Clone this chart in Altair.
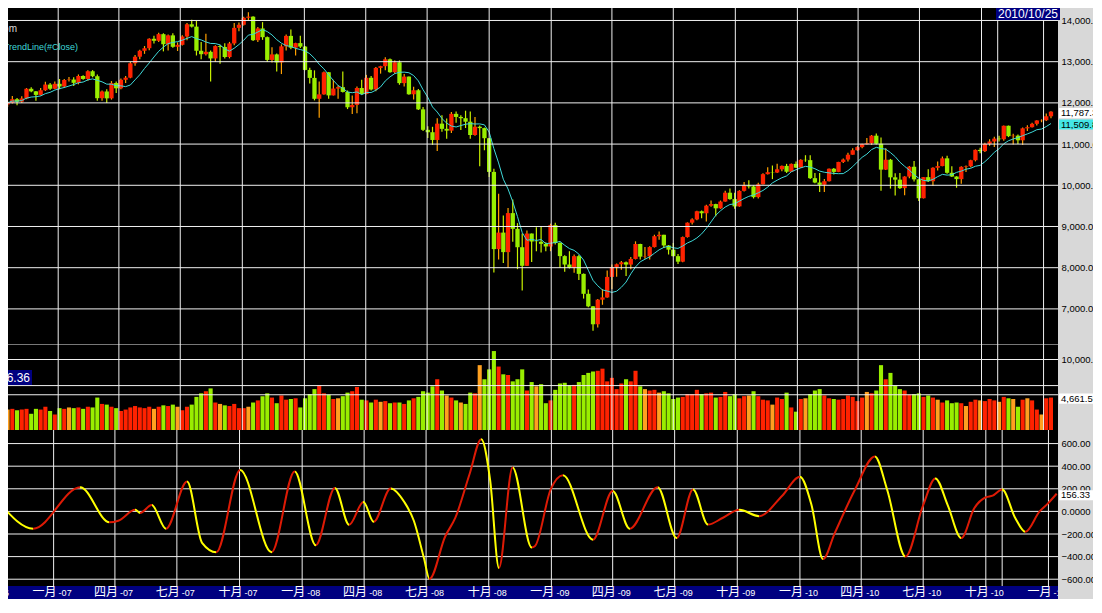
import altair as alt
import pandas as pd
import numpy as np

# ---------------- weekly candles ----------------
o06 = [11961, 12002, 12090, 12030, 12108, 12342, 12280, 12194, 12307, 12445, 12343]
h06 = [12050, 12168, 12120, 12160, 12360, 12380, 12290, 12360, 12510, 12480, 12520]
l06 = [11900, 11985, 11940, 12000, 12090, 12260, 12050, 12180, 12290, 12310, 12330]
c06 = [12002, 12090, 12030, 12108, 12342, 12280, 12194, 12307, 12445, 12343, 12463]

o07 = [12463, 12398, 12556, 12566, 12487, 12653, 12581, 12768, 12647, 12114, 12277, 12110, 12481,
       12354, 12561, 12612, 12962, 13121, 13265, 13327, 13556, 13507, 13668, 13424, 13639, 13361,
       13409, 13612, 13908, 13851, 13265, 13182, 13240, 13079, 13379, 13358, 13113, 13443, 13821,
       13896, 14066, 14093, 13522, 13807, 13595, 13043, 13177, 12981, 13372, 13626, 13340, 13451]
h07 = [12580, 12580, 12630, 12620, 12690, 12670, 12790, 12795, 12690, 12300, 12330, 12530, 12520,
       12590, 12650, 12990, 13160, 13290, 13380, 13570, 13630, 13700, 13690, 13660, 13690, 13470,
       13640, 13940, 14020, 13990, 13480, 13680, 13270, 13400, 13410, 13450, 13480, 13940, 13950,
       14090, 14200, 14100, 13840, 13960, 13610, 13350, 13200, 13420, 13660, 13780, 13460, 13630]
l07 = [12330, 12360, 12520, 12410, 12450, 12560, 12540, 12620, 12050, 12050, 12000, 12080, 12240,
       12330, 12480, 12600, 12900, 13060, 13190, 13280, 13440, 13480, 13250, 13270, 13340, 13260,
       13390, 13520, 13830, 13150, 13060, 13150, 12520, 12990, 12950, 13080, 13080, 13400, 13740,
       13880, 13990, 13500, 13480, 13530, 12990, 12980, 12760, 12700, 13270, 13300, 13150, 13330]
c07 = [12398, 12556, 12566, 12487, 12653, 12581, 12768, 12647, 12114, 12277, 12110, 12481, 12354,
       12561, 12612, 12962, 13121, 13265, 13327, 13556, 13507, 13668, 13424, 13639, 13361, 13409,
       13612, 13908, 13851, 13265, 13182, 13240, 13079, 13379, 13358, 13113, 13443, 13821, 13896,
       14066, 14093, 13522, 13807, 13595, 13043, 13177, 12981, 13372, 13626, 13340, 13451, 13366]

o08 = [13366, 12800, 12606, 12099, 12207, 12743, 12182, 12348, 12381, 12266, 11894, 11951, 12361,
       12216, 12609, 12325, 12849, 12891, 13058, 12745, 12986, 12480, 12638, 12209, 12307, 11843,
       11346, 11288, 11100, 11496, 11370, 11326, 11734, 11659, 11628, 11543, 11220, 11421, 11388,
       11143, 10325, 8451, 8852, 8378, 9325, 8943, 8497, 8046, 8829, 8635, 8629, 8579]
h08 = [13380, 12850, 12790, 12520, 12760, 12750, 12560, 12430, 12760, 12300, 12180, 12400, 12560,
       12680, 12650, 12870, 12900, 13110, 13080, 13030, 13030, 12700, 12640, 12390, 12340, 11900,
       11430, 11420, 11630, 11700, 11620, 11780, 11790, 11700, 11810, 11790, 11660, 11450, 11400,
       11150, 10400, 9794, 9266, 9450, 9654, 9080, 8830, 8900, 8830, 8980, 8990, 8620]
l08 = [12790, 12470, 12060, 11640, 12200, 12100, 12180, 12100, 12250, 11850, 11730, 11750, 12200,
       12210, 12300, 12280, 12710, 12790, 12730, 12710, 12440, 12400, 12200, 12080, 11830, 11320,
       11150, 10980, 10830, 11300, 11130, 11270, 11520, 11340, 11390, 11130, 11200, 10460, 10850,
       10200, 7882, 8197, 8113, 7997, 8627, 7965, 7449, 8040, 8140, 8400, 8370, 8400]
c08 = [12800, 12606, 12099, 12207, 12743, 12182, 12348, 12381, 12266, 11894, 11951, 12361, 12216,
       12609, 12325, 12849, 12891, 13058, 12745, 12986, 12480, 12638, 12209, 12307, 11843, 11346,
       11288, 11100, 11496, 11370, 11326, 11734, 11659, 11628, 11543, 11220, 11421, 11388, 11143,
       10325, 8451, 8852, 8378, 9325, 8943, 8497, 8046, 8829, 8635, 8629, 8579, 8515]

o09 = [8515, 9034, 8599, 8281, 8077, 8000, 8280, 7850, 7366, 7062, 6627, 7224, 7278, 7776, 8018,
       8083, 8131, 8076, 8212, 8575, 8268, 8277, 8500, 8764, 8799, 8540, 8438, 8280, 8146, 8743,
       9093, 9172, 9370, 9321, 9505, 9544, 9441, 9605, 9820, 9665, 9488, 9865, 9996, 9972, 9713,
       10023, 10270, 10318, 10310, 10388, 10471, 10329, 10520]
h09 = [9070, 9090, 8620, 8300, 8400, 8320, 8310, 7860, 7470, 7070, 7240, 7480, 7930, 8080, 8100,
       8160, 8150, 8260, 8640, 8580, 8500, 8520, 8800, 8880, 8800, 8550, 8600, 8330, 8760, 9100,
       9200, 9380, 9390, 9530, 9630, 9550, 9630, 9870, 9920, 9820, 9880, 10080, 10120, 10000, 10060,
       10290, 10440, 10480, 10520, 10480, 10520, 10530, 10580]
l09 = [8400, 8560, 8000, 7900, 7980, 7880, 7700, 7250, 7040, 6470, 6550, 7100, 7270, 7480, 7780,
       7950, 7800, 7960, 8200, 8200, 8220, 8200, 8490, 8680, 8480, 8320, 8270, 8090, 8130, 8730,
       9050, 9150, 9200, 9120, 9480, 9250, 9430, 9600, 9650, 9430, 9480, 9850, 9920, 9680, 9680,
       10020, 10260, 10150, 10300, 10340, 10300, 10320, 10420]
c09 = [9034, 8599, 8281, 8077, 8000, 8280, 7850, 7366, 7062, 6627, 7224, 7278, 7776, 8018, 8083,
       8131, 8076, 8212, 8575, 8268, 8277, 8500, 8764, 8799, 8540, 8438, 8280, 8146, 8743, 9093,
       9172, 9370, 9321, 9505, 9544, 9441, 9605, 9820, 9665, 9488, 9865, 9996, 9972, 9713, 10023,
       10270, 10318, 10310, 10388, 10471, 10329, 10520, 10428]

o10 = [10428, 10618, 10610, 10173, 10067, 10012, 10099, 10402, 10325, 10567, 10625, 10742, 10851,
       10927, 10997, 11019, 11204, 11009, 10380, 10620, 10193, 10137, 9931, 10212, 10450, 10144,
       9686, 10198, 10098, 10425, 10466, 10654, 10303, 10213, 10150, 10448, 10462, 10608, 10860,
       10830, 11006, 11063, 11133, 11118, 11445, 11193, 11204, 11092, 11382, 11410, 11492, 11573]
h10 = [10630, 10730, 10730, 10300, 10300, 10150, 10410, 10420, 10570, 10650, 10790, 10900, 10950,
       11010, 11150, 11220, 11260, 11160, 10900, 10640, 10290, 10300, 10220, 10470, 10590, 10150,
       10200, 10390, 10440, 10580, 10700, 10720, 10460, 10220, 10460, 10480, 10620, 10870, 10910,
       11030, 11120, 11180, 11200, 11450, 11450, 11250, 11230, 11400, 11460, 11520, 11580, 11600]
l10 = [10420, 10570, 10150, 10050, 9840, 9840, 10090, 10260, 10320, 10540, 10580, 10740, 10840,
       10900, 10990, 10980, 10990, 9870, 10370, 9920, 9750, 9910, 9760, 10170, 10090, 9620,
       9680, 10080, 9990, 10360, 10460, 10280, 10200, 9940, 10040, 10320, 10440, 10580, 10780,
       10810, 10960, 10930, 11060, 11080, 11170, 10990, 11000, 10980, 11320, 11400, 11450, 11530]
c10 = [10618, 10610, 10173, 10067, 10012, 10099, 10402, 10325, 10567, 10625, 10742, 10851, 10927,
       10997, 11019, 11204, 11009, 10380, 10620, 10193, 10137, 9931, 10212, 10450, 10144, 9686,
       10198, 10098, 10425, 10466, 10654, 10303, 10213, 10150, 10448, 10462, 10608, 10860, 10830,
       11006, 11063, 11133, 11118, 11445, 11193, 11204, 11092, 11382, 11410, 11492, 11573, 11578]

o11 = [11578, 11675]
h11 = [11740, 11800]
l11 = [11560, 11630]
c11 = [11675, 11787]

# weekly average volume
v06 = [2900, 3000, 2800, 2900, 3000, 2300, 3000, 2900, 3300, 2700, 2200]
v07 = [3100, 3000, 3200, 3100, 3200, 3000, 3300, 3200, 4600, 3700, 3600, 3300, 3100, 2700, 2900,
       3200, 3400, 3200, 3100, 3300, 3000, 3300, 3500, 3400, 3600, 3300, 2800, 3300, 3600, 4700,
       5200, 5500, 5900, 3900, 3700, 3500, 3400, 3700, 3100, 3100, 3300, 3900, 4200, 4800, 5200,
       4600, 3800, 4900, 4300, 4400, 4500, 3200]
v08 = [4500, 5100, 5800, 6300, 5200, 5000, 4400, 4500, 4800, 5300, 5500, 6100, 4300, 4200, 3900,
       4300, 4000, 4100, 3800, 3900, 3900, 3700, 4200, 4500, 4700, 5500, 5300, 6200, 7200, 5600,
       4900, 4600, 4200, 3900, 3700, 5300, 5200, 9200, 7200, 8600, 11200, 9000, 7900, 7800, 6900,
       7200, 8600, 5600, 6800, 6200, 6500, 3800]
v09 = [4200, 5700, 6600, 6700, 6300, 6400, 6800, 7800, 8100, 8300, 8400, 8700, 6900, 7400, 5800,
       6600, 7200, 6900, 8400, 6200, 5800, 5600, 5700, 5300, 5500, 5200, 4400, 4600, 4700, 5100,
       5100, 5700, 5100, 5200, 5300, 4600, 4700, 5400, 4800, 5100, 4500, 4800, 4900, 5500, 4800,
       4300, 4200, 3600, 4600, 4400, 5300, 3200, 2600]
v10 = [4400, 4500, 5100, 5600, 5800, 4900, 4500, 4400, 4300, 4400, 4900, 4700, 4100, 4600, 5400,
       5200, 5600, 9200, 7200, 8100, 6300, 5800, 5600, 5000, 5100, 5200, 4700, 4900, 4600, 4300,
       3900, 4200, 3800, 3900, 3800, 3400, 4000, 4300, 4200, 4100, 4400, 4200, 4000, 4700, 4500,
       4400, 3300, 4300, 4500, 4200, 2900, 2200]
v11 = [4500, 4600]

# oscillator turning points
osc_dates = ["2006-10-16", "2006-12-02", "2007-02-09", "2007-03-24", "2007-04-06", "2007-05-01",
             "2007-05-08", "2007-05-25", "2007-06-15", "2007-07-16", "2007-08-07", "2007-08-28",
             "2007-10-02", "2007-11-17", "2007-12-21", "2008-01-21", "2008-02-18", "2008-03-10",
             "2008-03-31", "2008-04-15", "2008-05-10", "2008-05-30", "2008-06-13", "2008-06-28",
             "2008-07-06", "2008-07-29", "2008-08-13", "2008-09-03", "2008-09-20", "2008-10-03",
             "2008-10-16", "2008-11-05", "2008-12-03", "2008-12-08", "2008-12-31", "2009-01-18",
             "2009-03-03", "2009-04-01", "2009-04-26", "2009-06-06", "2009-07-04", "2009-07-28",
             "2009-08-19", "2009-09-10", "2009-10-04", "2009-11-02", "2009-12-06", "2010-01-01",
             "2010-01-18", "2010-02-04", "2010-02-21", "2010-03-23", "2010-04-21", "2010-05-09",
             "2010-06-05", "2010-07-01", "2010-07-19", "2010-08-06", "2010-08-26", "2010-09-14",
             "2010-10-01", "2010-10-11", "2010-10-25", "2010-11-13", "2010-11-28", "2010-12-19",
             "2010-12-31", "2011-01-13"]
osc_vals = [56, -153, 214, -97, -83, 14, -14, 56, -153, 264, -278, -361, 367, -361, 353, -300, 208,
            -119, 83, -92, 203, 83, -83, -417, -597, -222, -56, 333, 639, 278, -500, 389, -319, -306,
            194, 319, -250, 181, -153, 214, -236, 194, -117, -56, 14, -42, 139, 306, 56, -422, -194,
            194, 486, 194, -400, 56, 292, 56, -236, 28, 125, 139, 194, -56, -181, 0, 69, 156.33]

# axis and annotation values
price_ticks = [7000, 8000, 9000, 10000, 11000, 12000, 13000, 14000]
vol_ticks = [10000]
vol_lines = [5000, 6300, 10000, 12200]
osc_ticks = [-600, -400, -200, 0, 200, 400, 600]
quarter_dates = ["2006-10-01", "2007-01-01", "2007-04-01", "2007-07-01", "2007-10-01", "2008-01-01",
                 "2008-04-01", "2008-07-01", "2008-10-01", "2009-01-01", "2009-04-01", "2009-07-01",
                 "2009-10-01", "2010-01-01", "2010-04-01", "2010-07-01", "2010-10-01", "2011-01-01"]
quarter_month = ["十月", "一月", "四月", "七月", "十月", "一月", "四月", "七月", "十月", "一月",
                 "四月", "七月", "十月", "一月", "四月", "七月", "十月", "一月"]
quarter_year = ["-06", "-07", "-07", "-07", "-07", "-08", "-08", "-08", "-08", "-09", "-09", "-09",
                "-09", "-10", "-10", "-10", "-10", "-11"]
cursor_date = ["2010-10-25"]
cursor_label = ["2010/10/25"]
price_tag_vals = [11787.38, 11509.86]
price_tag_text = ["11,787.38", "11,509.86"]
vol_tag_vals = [4661.59]
vol_tag_text = ["4,661.59"]
osc_tag_vals = [156.33]
osc_tag_text = ["156.33"]
vol_side_text = ["6.36"]
legend_lines = ["om", "TrendLine(#Close)"]

# ---------------- styles ----------------
W = 1050
H_PRICE, H_VOL, H_OSC, H_BAND = 336, 86, 156, 13
FONT = "Liberation Sans"
LABEL_SIZE = 9.5
RED, LIME, ORANGE = "#ff2200", "#99ee00", "#ffa020"
WICK_UP, WICK_DN = "#ffa000", "#c8f000"
OSC_UP, OSC_DN = "#dd1a05", "#ffff00"
CYAN = "#3fd8d8"
NAVY = "#000080"
GRID = "#f0f0f0"
BOX = "M-1,-0.24L1,-0.24L1,0.24L-1,0.24Z"
price_tag_fill = ["white", "#44e6e6"]

# ---------------- tables ----------------
opens = o06 + o07 + o08 + o09 + o10 + o11
highs = h06 + h07 + h08 + h09 + h10 + h11
lows = l06 + l07 + l08 + l09 + l10 + l11
closes = c06 + c07 + c08 + c09 + c10 + c11
vols = v06 + v07 + v08 + v09 + v10 + v11
n = len(closes)
assert all(len(a) == n for a in [opens, highs, lows, vols]), [len(a) for a in [opens, highs, lows, closes, vols]]

dates = pd.date_range("2006-10-18", periods=n, freq="W-WED").strftime("%Y-%m-%d")
price = pd.DataFrame({"date": dates, "open": opens, "high": highs, "low": lows,
                      "close": closes, "vol": vols})
up = price["close"] >= price["open"]
chg = price["close"] / price["open"] - 1
price["body_col"] = np.where(up, RED, LIME)
price["wick_col"] = np.where(up, WICK_UP, WICK_DN)
price["vol_col"] = np.where(chg > 0.004, RED, np.where(chg < -0.004, LIME, ORANGE))

osc = pd.DataFrame({"date": osc_dates, "val": osc_vals})
t = pd.to_datetime(osc["date"])
frac = ((t - t.iloc[0]) / (t.iloc[-1] - t.iloc[0])).to_numpy()
stops = []
for i, s in enumerate(np.sign(np.diff(osc_vals))):
    col = OSC_UP if s >= 0 else OSC_DN
    stops.append(alt.GradientStop(offset=float(frac[i]), color=col))
    stops.append(alt.GradientStop(offset=float(frac[i + 1]), color=col))
osc_gradient = alt.LinearGradient(gradient="linear", stops=stops, x1=0, x2=1, y1=0, y2=0)

vgrid = pd.DataFrame({"d": quarter_dates + cursor_date})
band = pd.DataFrame({"d": quarter_dates, "m": quarter_month, "y": quarter_year})

# ---------------- scales / axes ----------------
x_scale = alt.Scale(domain=[alt.DateTime(year=2006, month=10, date=26),
                            alt.DateTime(year=2011, month=1, date=15)], nice=False)


def X(f):
    return alt.X(f"{f}:T", scale=x_scale, axis=None)


def axis(values, **kw):
    return alt.Axis(orient="right", values=values, title=None, grid=False, domain=False,
                    ticks=False, labelPadding=3, labelFont=FONT, labelFontSize=LABEL_SIZE,
                    labelColor="black", labelFlush=False, labelOverlap=False, zindex=0, **kw)


p_scale = alt.Scale(domain=[6148, 14303], nice=False, zero=False)
p_axis = axis(price_ticks, format=",.2f")
v_scale = alt.Scale(domain=[0, 12200], nice=False)
v_axis = axis(vol_ticks, format=",.2f")
o_scale = alt.Scale(domain=[-660, 720], nice=False, zero=False)
o_axis = axis(osc_ticks, labelExpr="datum.value == 0 ? '0.0000' : format(datum.value, '.2f')")


def YP(f):
    return alt.Y(f"{f}:Q", scale=p_scale, axis=p_axis)


def YV(f):
    return alt.Y(f"{f}:Q", scale=v_scale, axis=v_axis)


def YO(f):
    return alt.Y(f"{f}:Q", scale=o_scale, axis=o_axis)


def vlines():
    return alt.Chart(vgrid).mark_rule(color=GRID, strokeWidth=1, clip=True).encode(x=X("d"))


def hlines(vals, yf):
    return alt.Chart(pd.DataFrame({"v": vals})).mark_rule(
        color=GRID, strokeWidth=1, clip=True).encode(y=yf("v"))


def tags(vals, texts, fills, yf):
    df = pd.DataFrame({"v": vals, "t": texts, "f": fills})
    box = alt.Chart(df).mark_point(shape=BOX, size=1764, filled=True, opacity=1,
                                   strokeWidth=0, yOffset=1.5).encode(
        x=alt.value(W + 22), y=yf("v"), color=alt.Color("f:N", scale=None))
    txt = alt.Chart(df).mark_text(align="left", baseline="middle", font=FONT,
                                  fontSize=LABEL_SIZE, color="black", yOffset=1.5).encode(
        x=alt.value(W + 3), y=yf("v"), text="t:N")
    return [box, txt]


# ---------------- price panel ----------------
wicks = alt.Chart(price).mark_rule(strokeWidth=1.2, clip=True).encode(
    x=X("date"), y=YP("low"), y2="high:Q", color=alt.Color("wick_col:N", scale=None))
bodies = alt.Chart(price).mark_bar(size=4.3, clip=True).encode(
    x=X("date"), y=YP("open"), y2="close:Q", color=alt.Color("body_col:N", scale=None))
ma = alt.Chart(price).transform_window(
    ma="mean(close)", frame=[-7, 0], sort=[alt.SortField("date")]
).mark_line(color=CYAN, strokeWidth=1, clip=True).encode(x=X("date"), y=YP("ma"))

leg = pd.DataFrame({"t": legend_lines})
leg_om = alt.Chart(leg.iloc[[0]]).mark_text(
    align="right", baseline="middle", font=FONT, fontSize=10, color="#d8d8d8", clip=True
).encode(x=alt.value(9), y=alt.value(21), text="t:N")
leg_tl = alt.Chart(leg.iloc[[1]]).mark_text(
    align="right", baseline="middle", font=FONT, fontSize=9, color=CYAN, clip=True
).encode(x=alt.value(70), y=alt.value(39), text="t:N")

cur = pd.DataFrame({"t": cursor_label})
cur_box = alt.Chart(cur).mark_rect(color=NAVY).encode(
    x=alt.value(988), x2=alt.value(1052), y=alt.value(0), y2=alt.value(12))
cur_txt = alt.Chart(cur).mark_text(font=FONT, fontSize=12, color="white", baseline="middle",
                                   align="center").encode(
    x=alt.value(1020), y=alt.value(6), text="t:N")

price_panel = alt.layer(
    wicks, bodies, ma, vlines(), hlines(price_ticks, YP),
    *tags(price_tag_vals, price_tag_text, price_tag_fill, YP),
    leg_om, leg_tl, cur_box, cur_txt
).properties(width=W, height=H_PRICE)

# ---------------- volume panel ----------------
vbars = alt.Chart(price).mark_bar(size=4.1, clip=True).encode(
    x=X("date"), y=YV("vol"), color=alt.Color("vol_col:N", scale=None))
side = pd.DataFrame({"t": vol_side_text})
side_box = alt.Chart(side).mark_rect(color=NAVY).encode(
    x=alt.value(0), x2=alt.value(24), y=alt.value(26), y2=alt.value(41))
side_txt = alt.Chart(side).mark_text(align="right", baseline="middle", font=FONT, fontSize=12,
                                     color="white", clip=True).encode(
    x=alt.value(22), y=alt.value(34), text="t:N")
vol_panel = alt.layer(
    vbars, vlines(), hlines(vol_lines, YV),
    *tags(vol_tag_vals, vol_tag_text, ["white"], YV),
    side_box, side_txt
).properties(width=W, height=H_VOL)

# ---------------- oscillator panel ----------------
oline = alt.Chart(osc).mark_line(interpolate="monotone", strokeWidth=2, clip=True,
                                 color=osc_gradient).encode(x=X("date"), y=YO("val"))
osc_panel = alt.layer(
    vlines(), hlines(osc_ticks, YO), oline,
    *tags(osc_tag_vals, osc_tag_text, ["white"], YO)
).properties(width=W, height=H_OSC)

# ---------------- date band ----------------
mtxt = alt.Chart(band).mark_text(align="right", baseline="top", dx=3, dy=1,
                                 font="Noto Sans CJK SC", fontSize=12, color="white",
                                 clip=True).encode(x=X("d"), y=alt.value(0), text="m:N")
ytxt = alt.Chart(band).mark_text(align="left", baseline="top", dx=5, font=FONT, fontSize=9,
                                 color="white", clip=True).encode(
    x=X("d"), y=alt.value(3), text="y:N")
band_panel = alt.layer(mtxt, ytxt).properties(
    width=W, height=H_BAND, view=alt.ViewBackground(fill=NAVY, strokeWidth=0))

chart = alt.vconcat(price_panel, vol_panel, osc_panel, band_panel, spacing=0).properties(
    background="#d8d8d8",
    padding={"left": 0, "top": 0, "right": -11, "bottom": 0},
).configure_view(fill="black", strokeWidth=0)

chart.save("out.html", embed_options={"renderer": "svg", "actions": False})
